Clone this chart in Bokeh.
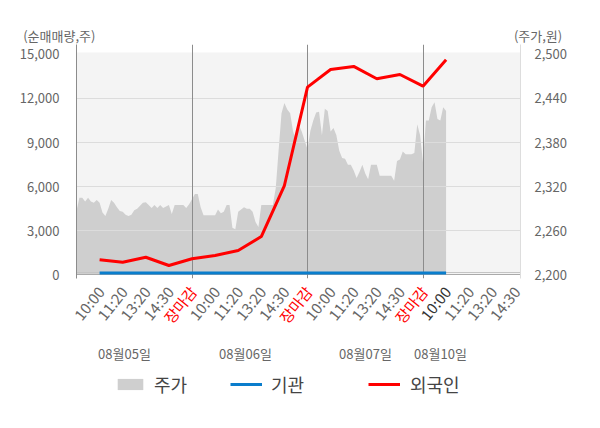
import math
from bokeh.plotting import figure
from bokeh.layouts import column
from bokeh.models import (Range1d, LinearAxis, FixedTicker, NumeralTickFormatter,
                          Legend, LegendItem, ColumnDataSource)
from bokeh.embed import file_html
from bokeh.resources import INLINE
from bokeh.core.properties import value

FONT = "Noto Sans CJK KR"
NAN = float("nan")

# ---------------- data ----------------
day_labels = ["08월05일", "08월06일", "08월07일", "08월10일"]
time_labels = ["10:00", "11:20", "13:20", "14:30", "장마감",
               "10:00", "11:20", "13:20", "14:30", "장마감",
               "10:00", "11:20", "13:20", "14:30", "장마감",
               "10:00", "11:20", "13:20", "14:30"]
time_slots = list(range(1, 20))
point_slots = list(range(1, 17))

# net buying (shares), left axis
foreign = [1030, 860, 1200, 640, 1100, 1320, 1660, 2610, 6080,
           12770, 13970, 14180, 13340, 13630, 12840, 14630]
institution = [130, 130, 130, 130, 130, 130, 130, 130, 130,
               130, 130, 130, 130, 130, 130, 130]

# stock price (won), right axis, sampled through each session
price_d1 = [2287, 2305, 2305, 2300, 2305, 2300, 2298, 2302, 2298, 2285,
            2280, 2290, 2302, 2298, 2292, 2287, 2286, 2282, 2280, 2282,
            2288, 2290, 2294, 2298, 2299, 2295, 2291, 2295, 2291, 2295,
            2291, 2293, 2295, 2283, 2295, 2295, 2295, 2295, 2291, 2296]
price_d2 = [2303, 2310, 2310, 2292, 2281, 2281, 2281, 2281, 2281, 2289,
            2284, 2286, 2295, 2295, 2264, 2262, 2286, 2289, 2292, 2290,
            2290, 2286, 2272, 2265, 2295, 2295, 2295, 2295, 2295, 2318,
            2370, 2420, 2434, 2425, 2420, 2395, 2384, 2404, 2395, 2383]
price_d3 = [2371, 2396, 2410, 2421, 2422, 2390, 2426, 2423, 2395, 2400,
            2390, 2369, 2359, 2358, 2350, 2350, 2342, 2332, 2340, 2350,
            2338, 2330, 2350, 2350, 2350, 2335, 2335, 2335, 2335, 2335,
            2328, 2355, 2357, 2368, 2364, 2364, 2364, 2366, 2405, 2390]
price_d4 = [2353, 2410, 2410, 2428, 2435, 2412, 2410, 2428, 2423]

vol_ticks = [0, 3000, 6000, 9000, 12000, 15000]
price_ticks = [2200, 2260, 2320, 2380, 2440, 2500]
day_bounds = [5, 10, 15]

# ---------------- geometry (pixels) ----------------
W = 584
HEAD_H = 44
BL, BR, BB = 76, 64, 5
FH = 234
MAIN_H = FH + BB
FOOT_H = 412 - HEAD_H - MAIN_H
SLOT = 23.1
X_END = (W - BL - BR) / SLOT
XS0, XS1 = -BL / SLOT, (W - BL) / SLOT      # slot range over the whole width
Y0, Y1 = -245, 15673
P0 = 2200 + (Y0 / 15000) * 300
P1 = 2200 + (Y1 / 15000) * 300
FOOT_TOP = HEAD_H + MAIN_H


def xd(px):   # page x -> slot units
    return (px - BL) / SLOT


# area x positions
px_x, px_y = [], []
for d, arr in enumerate([price_d1, price_d2, price_d3]):
    for i, v in enumerate(arr):
        px_x.append(d * 5 + i * 5 / len(arr))
        px_y.append(v)
for i, v in enumerate(price_d4):
    px_x.append(15 + i * 0.125)
    px_y.append(v)


def bare(fig):
    fig.outline_line_color = None
    fig.xgrid.visible = False
    fig.ygrid.visible = False
    fig.background_fill_color = "white"
    fig.border_fill_color = "white"
    return fig


# ---------------- header (unit captions) ----------------
head = bare(figure(width=W, height=HEAD_H, output_backend="svg", toolbar_location=None,
                   x_range=Range1d(XS0, XS1), y_range=Range1d(HEAD_H, 0),
                   x_axis_location=None, y_axis_location=None, frame_align=False,
                   min_border=0, min_border_left=0, min_border_right=0,
                   min_border_top=0, min_border_bottom=0))
head.text(x=[xd(22.7)], y=[34.5], text=["(순매매량,주)"], text_align="left",
          text_baseline="middle", text_font=value(FONT), text_font_size="13px",
          text_color="#666666")
head.text(x=[xd(561.7)], y=[34.5], text=["(주가,원)"], text_align="right",
          text_baseline="middle", text_font=value(FONT), text_font_size="13px",
          text_color="#666666")

# ---------------- main plot ----------------
p = bare(figure(width=W, height=MAIN_H, output_backend="svg", toolbar_location=None,
                x_range=Range1d(0, X_END), y_range=Range1d(Y0, Y1), frame_align=False,
                x_axis_location=None, min_border_left=BL, min_border_right=BR,
                min_border_top=0, min_border_bottom=BB))
p.extra_y_ranges = {"price": Range1d(P0, P1)}

p.hstrip(y0=[0], y1=[15150], fill_color="#f4f4f4", line_color=None)
r_area = p.varea(x=px_x, y1=[2200] * len(px_x), y2=px_y, fill_color="#cfcfcf",
                 y_range_name="price")
p.hspan(y=vol_ticks[1:-1], line_color="#dcdcdc", line_width=1)
p.hspan(y=[160], line_color="#c4c4c4", line_width=1)
p.hspan(y=[0], line_color="#aaaaaa", line_width=1)
p.vspan(x=day_bounds, line_color="#8c8c8c", line_width=1)
p.line(point_slots, institution, line_color="#0a7dcc", line_width=3)
p.line(point_slots, foreign, line_color="#ff0000", line_width=3)

ax = p.yaxis[0]
ax.ticker = FixedTicker(ticks=vol_ticks)
ax.formatter = NumeralTickFormatter(format="0,0")
ax.major_tick_line_color = None
ax.minor_tick_line_color = None
ax.axis_line_color = "#8c8c8c"
ax.major_label_text_font = FONT
ax.major_label_text_font_size = "13px"
ax.major_label_text_color = "#666666"
ax.major_label_standoff = 11

rax = LinearAxis(y_range_name="price", ticker=FixedTicker(ticks=price_ticks),
                 formatter=NumeralTickFormatter(format="0,0"))
rax.major_tick_line_color = None
rax.minor_tick_line_color = None
rax.axis_line_color = "#dddddd"
rax.major_label_text_font = FONT
rax.major_label_text_font_size = "13px"
rax.major_label_text_color = "#666666"
rax.major_label_standoff = 8
p.add_layout(rax, "right")

# ---------------- footer (time ticks, dates, legend) ----------------
foot = bare(figure(width=W, height=FOOT_H, output_backend="svg", toolbar_location=None,
                   x_range=Range1d(XS0, XS1), y_range=Range1d(412, FOOT_TOP),
                   x_axis_location=None, y_axis_location=None, frame_align=False,
                   min_border=0, min_border_left=0, min_border_right=0,
                   min_border_top=0, min_border_bottom=0))

colors = []
for i, t in enumerate(time_labels):
    if t == "장마감":
        colors.append("#ff0000")
    elif i == 15:
        colors.append("#333333")
    else:
        colors.append("#666666")
tsrc = ColumnDataSource(dict(x=[s + 1 / SLOT for s in time_slots],
                             y=[288] * len(time_slots), text=time_labels, color=colors))
foot.text(x="x", y="y", text="text", text_color="color", source=tsrc,
          angle=math.radians(51), text_align="right", text_baseline="middle",
          text_font=value(FONT), text_font_size="15px")

date_px = [124, 245, 365, 440]
foot.text(x=[xd(d) for d in date_px], y=[353] * 4, text=day_labels,
          text_align="center", text_baseline="middle", text_font=value(FONT),
          text_font_size="13px", text_color="#666666")

# legend swatch renderers (no visible data)
l_area = foot.varea(x=[NAN, NAN], y1=[NAN, NAN], y2=[NAN, NAN], fill_color="#cfcfcf")
l_blue = foot.line(x=[NAN, NAN], y=[NAN, NAN], line_color="#0a7dcc", line_width=3)
l_red = foot.line(x=[NAN, NAN], y=[NAN, NAN], line_color="#ff0000", line_width=3)

for lbl, rend, lx, so in [("주가", l_area, 114, 8), ("기관", l_blue, 230, 9),
                          ("외국인", l_red, 368, 10)]:
    leg = Legend(items=[LegendItem(label=lbl, renderers=[rend])],
                 location=(lx, 15), orientation="horizontal",
                 glyph_width=32, glyph_height=14, label_standoff=so,
                 padding=0, margin=0, border_line_color=None,
                 background_fill_alpha=0, label_text_font=FONT,
                 label_text_font_size="18px", label_text_color="#444444",
                 label_height=14)
    foot.add_layout(leg)

layout = column(head, p, foot, spacing=0)
open("out.html", "w").write(file_html(layout, INLINE))
